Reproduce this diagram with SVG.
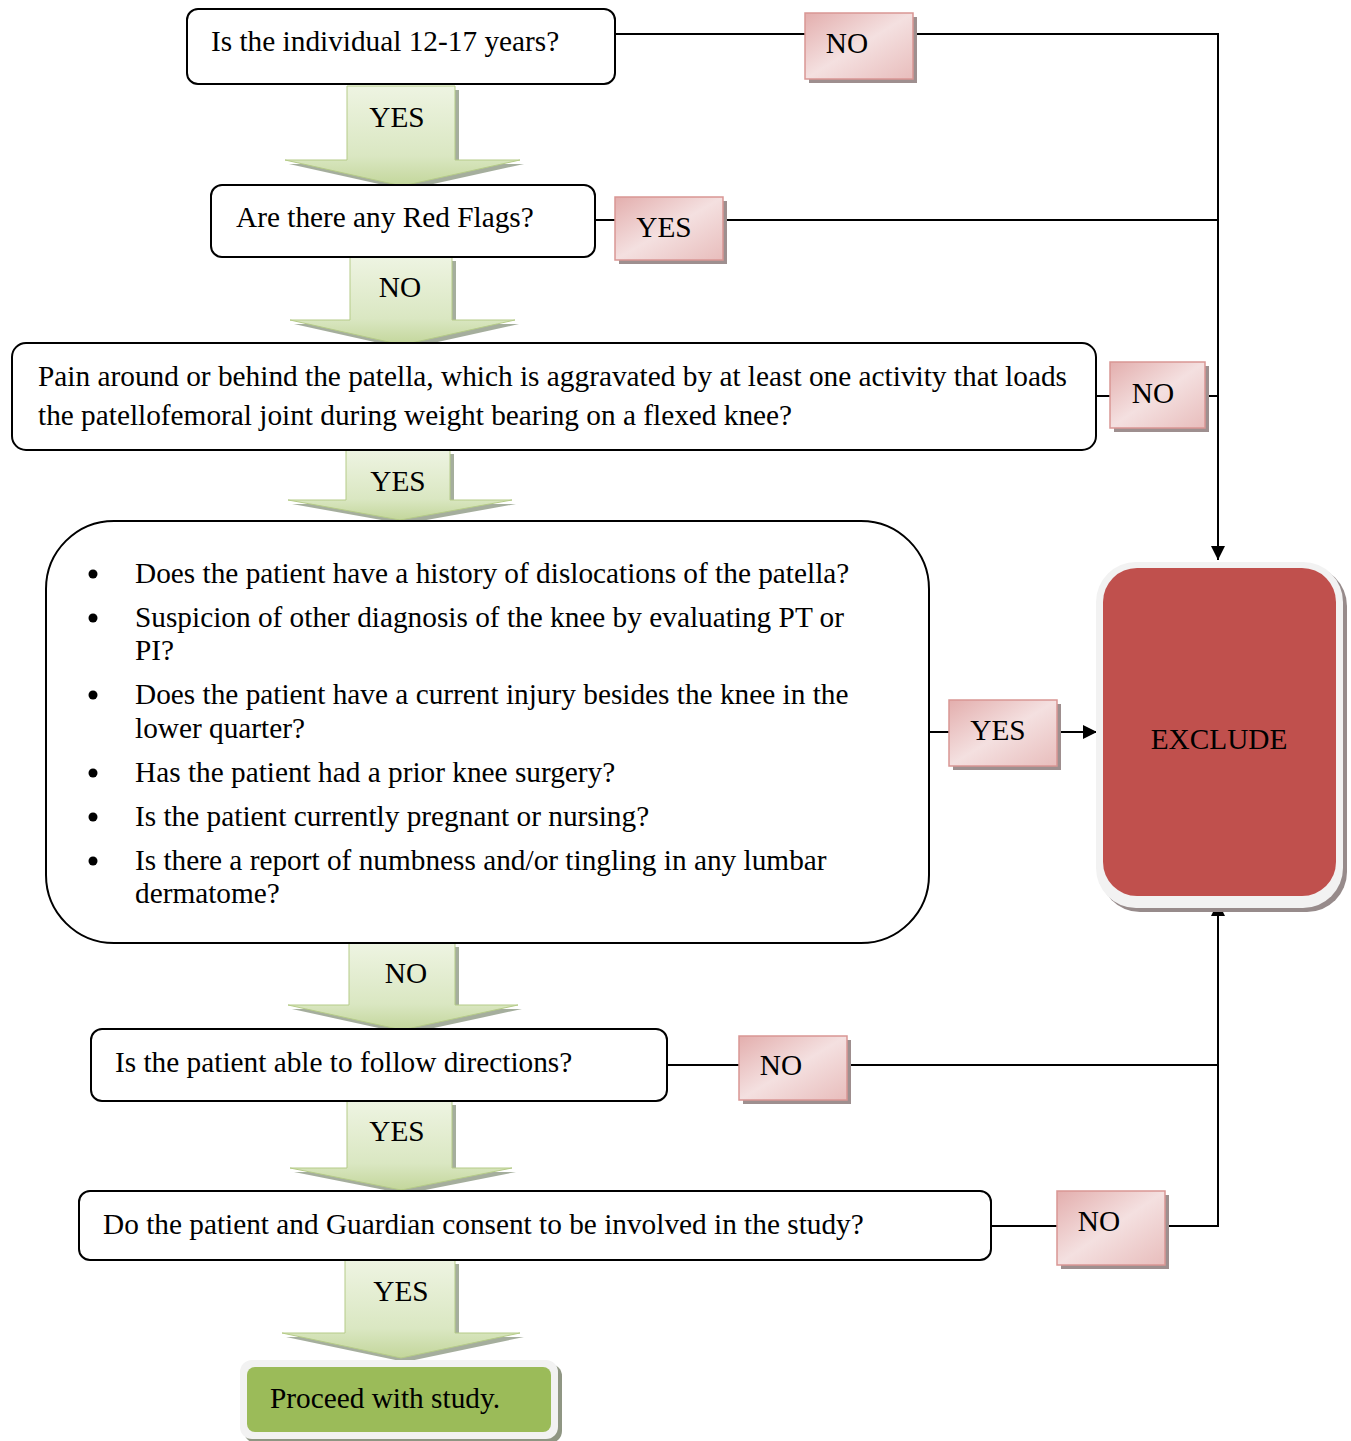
<svg xmlns="http://www.w3.org/2000/svg" width="1351" height="1441" viewBox="0 0 1351 1441">
  <defs>
    <linearGradient id="pink" x1="0" y1="0" x2="1" y2="1">
      <stop offset="0" stop-color="#E3AEAD"/>
      <stop offset="0.5" stop-color="#F4E0E0"/>
      <stop offset="1" stop-color="#E8BDBC"/>
    </linearGradient>
    <linearGradient id="green" x1="0" y1="0" x2="0" y2="1">
      <stop offset="0" stop-color="#EEF4E2"/>
      <stop offset="0.7" stop-color="#DAE7C2"/>
      <stop offset="1" stop-color="#C3D69B"/>
    </linearGradient>
    <marker id="arr" viewBox="0 0 10 10" refX="10" refY="5" markerWidth="14" markerHeight="14" markerUnits="userSpaceOnUse" orient="auto">
      <path d="M0,0 L10,5 L0,10 Z" fill="#000"/>
    </marker>
    <style>
      text { font-family: "Liberation Serif", "Times New Roman", serif; font-size: 29.3px; fill: #000; }
      .q { fill: #fff; stroke: #000; stroke-width: 2; }
      .tag { fill: url(#pink); stroke: #D99694; stroke-width: 1.5; }
      .tagsh { fill: #9E8F8F; }
      .flow { fill: url(#green); stroke: #B5CB88; stroke-width: 1; }
      .flowsh { fill: #8E9A84; opacity: 0.8; }
      .line { fill: none; stroke: #000; stroke-width: 2; }
      .mid { text-anchor: middle; }
    </style>
  </defs>

  <!-- connectors -->
  <g id="connectors">
    <path class="line" d="M615,34 H805 M913,34 H1218 V560" marker-end="url(#arr)"/>
    <path class="line" d="M595,220 H615 M723,220 H1218"/>
    <path class="line" d="M1096,396 H1110 M1205,396 H1218"/>
    <path class="line" d="M929,732 H949"/>
    <path class="line" d="M1057,732 H1097" marker-end="url(#arr)"/>
    <path class="line" d="M667,1065 H739 M847,1065 H1218"/>
    <path class="line" d="M991,1226 H1057 M1165,1226 H1218 V902" marker-end="url(#arr)"/>
  </g>

  <!-- block arrows between steps -->
  <g id="flow-arrows">
    <g id="arrow-yes-1">
      <path class="flowsh" d="M351,90 H459 V164 H524 L406,190 L289,164 H351 Z"/>
      <path class="flow" d="M347,86 H455 V160 H520 L402,186 L285,160 H347 Z"/>
      <text class="mid" x="397" y="127">YES</text>
    </g>
    <g id="arrow-no-2">
      <path class="flowsh" d="M354,261 H456 V324 H519 L406,349 L294,324 H354 Z"/>
      <path class="flow" d="M350,257 H452 V320 H515 L402,345 L290,320 H350 Z"/>
      <text class="mid" x="400" y="297">NO</text>
    </g>
    <g id="arrow-yes-3">
      <path class="flowsh" d="M350,454 H454 V504 H516 L404,524 L292,504 H350 Z"/>
      <path class="flow" d="M346,450 H450 V500 H512 L400,520 L288,500 H346 Z"/>
      <text class="mid" x="398" y="491">YES</text>
    </g>
    <g id="arrow-no-4">
      <path class="flowsh" d="M353,947 H459 V1009 H522 L406,1034 L292,1009 H353 Z"/>
      <path class="flow" d="M349,943 H455 V1005 H518 L402,1030 L288,1005 H349 Z"/>
      <text class="mid" x="406" y="983">NO</text>
    </g>
    <g id="arrow-yes-5">
      <path class="flowsh" d="M351,1105 H456 V1172 H516 L405,1194 L294,1172 H351 Z"/>
      <path class="flow" d="M347,1101 H452 V1168 H512 L401,1190 L290,1168 H347 Z"/>
      <text class="mid" x="397" y="1141">YES</text>
    </g>
    <g id="arrow-yes-6">
      <path class="flowsh" d="M349,1264 H459 V1337 H524 L405,1362 L286,1337 H349 Z"/>
      <path class="flow" d="M345,1260 H455 V1333 H520 L401,1358 L282,1333 H345 Z"/>
      <text class="mid" x="401" y="1301">YES</text>
    </g>
  </g>

  <!-- question boxes -->
  <g id="q-age">
    <rect class="q" x="187" y="9" width="428" height="75" rx="11"/>
    <text x="211" y="51">Is the individual 12-17 years?</text>
  </g>
  <g id="q-redflags">
    <rect class="q" x="211" y="185" width="384" height="72" rx="11"/>
    <text x="236" y="227">Are there any Red Flags?</text>
  </g>
  <g id="q-pain">
    <rect class="q" x="12" y="343" width="1084" height="107" rx="14"/>
    <text x="38" y="386" textLength="1029" lengthAdjust="spacingAndGlyphs">Pain around or behind the patella, which is aggravated by at least one activity that loads</text>
    <text x="38" y="425">the patellofemoral joint during weight bearing on a flexed knee?</text>
  </g>
  <g id="q-criteria">
    <rect class="q" x="46" y="521" width="883" height="422" rx="68"/>
    <g>
      <circle cx="93" cy="574" r="4.5"/>
      <circle cx="93" cy="618" r="4.5"/>
      <circle cx="93" cy="695" r="4.5"/>
      <circle cx="93" cy="773" r="4.5"/>
      <circle cx="93" cy="817" r="4.5"/>
      <circle cx="93" cy="861" r="4.5"/>
    </g>
    <text x="135" y="583">Does the patient have a history of dislocations of the patella?</text>
    <text x="135" y="627">Suspicion of other diagnosis of the knee by evaluating PT or</text>
    <text x="135" y="660">PI?</text>
    <text x="135" y="704">Does the patient have a current injury besides the knee in the</text>
    <text x="135" y="738">lower quarter?</text>
    <text x="135" y="782">Has the patient had a prior knee surgery?</text>
    <text x="135" y="826">Is the patient currently pregnant or nursing?</text>
    <text x="135" y="870">Is there a report of numbness and/or tingling in any lumbar</text>
    <text x="135" y="903">dermatome?</text>
  </g>
  <g id="q-directions">
    <rect class="q" x="91" y="1029" width="576" height="72" rx="11"/>
    <text x="115" y="1072">Is the patient able to follow directions?</text>
  </g>
  <g id="q-consent">
    <rect class="q" x="79" y="1191" width="912" height="69" rx="11"/>
    <text x="103" y="1234">Do the patient and Guardian consent to be involved in the study?</text>
  </g>

  <!-- answer tags -->
  <g id="tag-no-age">
    <rect class="tagsh" x="809" y="17" width="108" height="66"/>
    <rect class="tag" x="805" y="13" width="108" height="66"/>
    <text class="mid" x="847" y="53">NO</text>
  </g>
  <g id="tag-yes-redflags">
    <rect class="tagsh" x="619" y="201" width="108" height="63"/>
    <rect class="tag" x="615" y="197" width="108" height="63"/>
    <text class="mid" x="664" y="237">YES</text>
  </g>
  <g id="tag-no-pain">
    <rect class="tagsh" x="1114" y="366" width="95" height="66"/>
    <rect class="tag" x="1110" y="362" width="95" height="66"/>
    <text class="mid" x="1153" y="403">NO</text>
  </g>
  <g id="tag-yes-criteria">
    <rect class="tagsh" x="953" y="704" width="108" height="66"/>
    <rect class="tag" x="949" y="700" width="108" height="66"/>
    <text class="mid" x="998" y="740">YES</text>
  </g>
  <g id="tag-no-directions">
    <rect class="tagsh" x="743" y="1040" width="108" height="64"/>
    <rect class="tag" x="739" y="1036" width="108" height="64"/>
    <text class="mid" x="781" y="1075">NO</text>
  </g>
  <g id="tag-no-consent">
    <rect class="tagsh" x="1061" y="1195" width="108" height="74"/>
    <rect class="tag" x="1057" y="1191" width="108" height="74"/>
    <text class="mid" x="1099" y="1231">NO</text>
  </g>

  <!-- outcomes -->
  <g id="exclude">
    <rect x="1100" y="566" width="247" height="346" rx="40" fill="#978B8B"/>
    <rect x="1096" y="562" width="247" height="346" rx="40" fill="#F2F2F2"/>
    <rect x="1103" y="568" width="233" height="328" rx="34" fill="#C0504D"/>
    <text class="mid" x="1219" y="749">EXCLUDE</text>
  </g>
  <g id="proceed">
    <rect x="244" y="1364" width="318" height="79" rx="12" fill="#8F9683"/>
    <rect x="240" y="1360" width="318" height="79" rx="12" fill="#F2F2F2"/>
    <rect x="247" y="1367" width="304" height="65" rx="8" fill="#9BBB59"/>
    <text x="270" y="1408">Proceed with study.</text>
  </g>
</svg>
